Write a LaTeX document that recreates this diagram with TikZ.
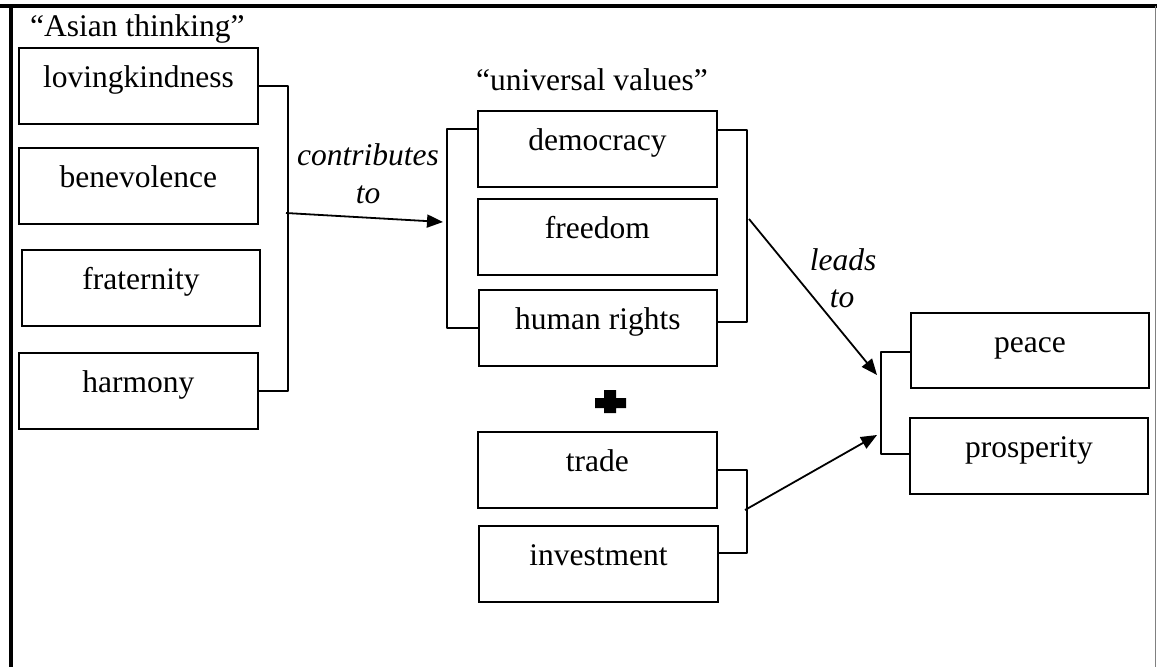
\documentclass[tikz,border=0pt]{standalone}
\usepackage{fontspec}
\setmainfont{Liberation Serif}
\usetikzlibrary{arrows.meta}
\begin{document}
\begin{tikzpicture}[x=1pt,y=-1pt,
  every node/.style={font=\fontsize{31.5}{38}\selectfont},
  box/.style={draw, line width=1.8pt, anchor=north west, inner sep=0pt,
    minimum width=239pt, text height=40pt, text depth=36pt},
  br/.style={line width=1.8pt, line join=round},
  arr/.style={line width=1.8pt, -{Triangle[length=16pt,width=13pt]}},
  lbl/.style={anchor=base, inner sep=0pt},
  ilbl/.style={anchor=base, inner sep=0pt, font=\fontsize{31.5}{38}\selectfont\itshape}]
\useasboundingbox (0,0) rectangle (1157,667);
% frame
\draw[line width=4pt] (0,6) -- (1157,6);
\draw[line width=4pt] (11,4) -- (11,667);
\draw[gray, line width=1pt] (1155,6) -- (1155,667);
% headings
\node[anchor=base west, inner sep=0pt] (hA) at (30,36) {“Asian thinking”};
\node[lbl] (hU) at (592,90) {“universal values”};
% left column
\node[box] (lk) at (18,47) {lovingkindness};
\node[box] (bv) at (18,147) {benevolence};
\node[box, minimum width=238pt] (fr) at (21,249) {fraternity};
\node[box] (hm) at (18,352) {harmony};
% centre column
\node[box] (dem) at (477,110) {democracy};
\node[box] (fre) at (477,198) {freedom};
\node[box, minimum width=238pt] (hr) at (478,289) {human rights};
\node[box] (tr) at (477,431) {trade};
\node[box] (inv) at (478,525) {investment};
% right column
\node[box, minimum width=238pt, text depth=35pt] (pc) at (910,312) {peace};
\node[box, minimum width=238pt] (pr) at (909,417) {prosperity};
% brackets
\draw[br] (lk.east) -- ++(29,0) |- (hm.east);
\draw[br] ([yshift=-19pt]dem.north west) -- ++(-30,0) |- (hr.west);
\draw[br] ([yshift=-20pt]dem.north east) -- ++(29,0) |- ([yshift=-33pt]hr.north east);
\draw[br] ([yshift=-40pt]pc.north west) -- ++(-29,0) |- ([yshift=-37pt]pr.north west);
\draw[br] (tr.east) -- ++(29,0) |- ([yshift=-28pt]inv.north east);
% connector end points on the brackets
\coordinate (cL) at (286,213);
\coordinate (cU) at (447,222);
\coordinate (cR) at (749,219);
\coordinate (cT) at (745,510);
\coordinate (cP) at (881,375);
\coordinate (cQ) at (881,435);
% arrows
\draw[arr] (cL) -- ([xshift=-4pt]cU);
\draw[arr] (cR) -- ([xshift=-4pt]cP);
\draw[arr] (cT) -- ([xshift=-4pt]cQ);
% labels
\node[ilbl] (c1) at (368,165) {contributes};
\node[ilbl] (c2) at (368,203) {to};
\node[ilbl] (l1) at (843,270) {leads};
\node[ilbl] (l2) at (842,307) {to};
% plus sign
\fill (595,398) -- (604,398) -- (604,390) -- (616,390) -- (616,398) -- (626,398)
  -- (626,408) -- (616,408) -- (616,413) -- (604,413) -- (604,408) -- (595,408) -- cycle;
\end{tikzpicture}
\end{document}
